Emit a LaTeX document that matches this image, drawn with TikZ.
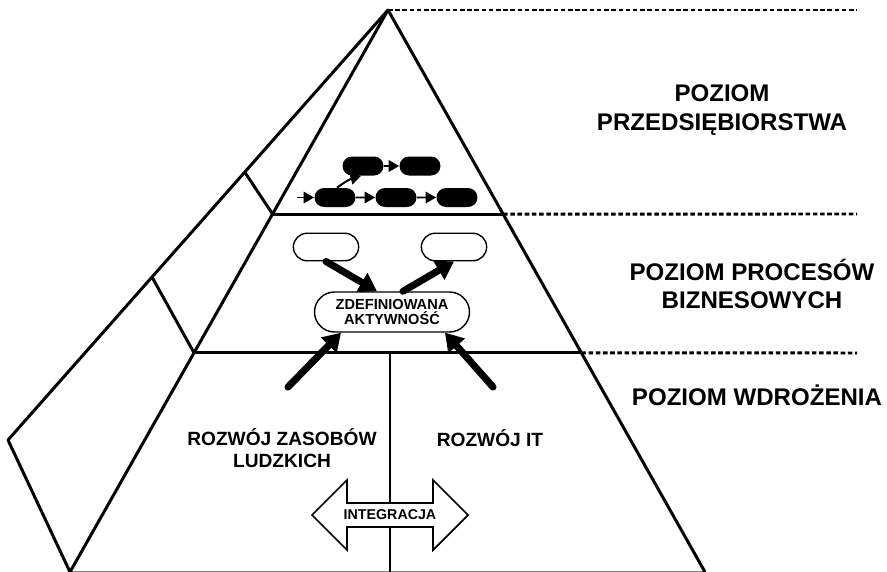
\documentclass[tikz,border=0pt]{standalone}
\usepackage{fontspec}
\setmainfont{Liberation Sans}
\usepackage{tikz}
\usetikzlibrary{arrows.meta, positioning, calc, shapes.misc}

\begin{document}
\begin{tikzpicture}[
  x=0.02cm, y=-0.02cm,
  edge/.style = {draw, line width=1.7pt, line join=round},
  level/.style = {draw, line width=1.7pt, dash pattern=on 2.6pt off 1.5pt},
  biglabel/.style = {font=\fontsize{13.7}{16.1}\selectfont\bfseries, align=center},
  midlabel/.style = {font=\fontsize{10.9}{12.3}\selectfont\bfseries, align=center},
  smalllabel/.style = {font=\fontsize{8.3}{8.6}\selectfont\bfseries, align=center},
  task/.style = {rounded rectangle, fill=black, minimum width=0.82cm, minimum height=0.38cm, inner sep=0pt},
  proc/.style = {rounded rectangle, draw, line width=0.8pt, minimum width=1.54cm, minimum height=0.55cm},
  flow/.style = {draw, line width=1.1pt, -{Triangle[length=6pt,width=6.5pt]}},
  push/.style = {draw, line width=4pt, line cap=round, -{Triangle[length=10pt,width=12pt]}}
  ]
 \useasboundingbox (0,0) rectangle (887,572);
 % Pyramid corners
 \coordinate (apex) at (388,10);
 \coordinate (bl) at (70,572);
 \coordinate (br) at (705,572);
 \coordinate (side) at (8,440);
 \coordinate (l1) at ($(apex)!0.363!(bl)$);
 \coordinate (r1) at ($(apex)!0.363!(br)$);
 \coordinate (l2) at ($(apex)!0.610!(bl)$);
 \coordinate (r2) at ($(apex)!0.610!(br)$);
 \coordinate (s1) at ($(apex)!0.377!(side)$);
 \coordinate (s2) at ($(apex)!0.621!(side)$);
 \coordinate (split) at (390,353);
 % Pyramid faces
 \draw[gray, line width=0.8pt] (bl) -- (br);
 \draw[edge] (bl) -- (apex) -- (br);
 \draw[edge] (apex) -- (side) -- (bl);
 \draw[edge] (l1) -- (r1);
 \draw[edge] (l2) -- (r2);
 \draw[edge] (l1) -- (s1);
 \draw[edge] (l2) -- (s2);
 \draw[line width=1.4pt] (split) -- (split |- bl);
 % Level lines
 \draw[level] (apex) -- (857,10);
 \draw[level] (r1) -- (857,214);
 \draw[level] (r2) -- (857,353);
 % Level labels
 \node[biglabel] (enterprise) at (722,110) {POZIOM\\PRZEDSIĘBIORSTWA};
 \node[biglabel] (processes) at (752,284) {POZIOM PROCESÓW\\BIZNESOWYCH};
 \node[biglabel] (deployment) at (757,395) {POZIOM WDROŻENIA};
 % Enterprise level tasks
 \node[task] (t1) at (363,166) {};
 \node[task] (t2) at (420,166) {};
 \node[task] (t3) at (335,197.5) {};
 \node[task] (t4) at (396,197.5) {};
 \node[task] (t5) at (457,197.5) {};
 \coordinate (tin) at (297,197.5);
 \draw[flow] (tin) -- (t3);
 \draw[flow] (t3) -- (t4);
 \draw[flow] (t4) -- (t5);
 \draw[flow] (t1) -- (t2);
 \draw[flow] ([xshift=0.04cm]t3.north) to[bend left=10] ([xshift=-0.04cm]t1.south);
 % Process level
 \node[proc] (procin) at (326,247) {};
 \node[proc] (procout) at (454,247) {};
 \node[rounded rectangle, draw, line width=0.8pt, minimum width=3.1cm, minimum height=0.8cm, inner sep=0pt, smalllabel] (activity) at (392,312)
  {ZDEFINIOWANA\\AKTYWNOŚĆ};
 \draw[push] (procin.south) -- ([xshift=-0.3cm]activity.north);
 \draw[push] ([xshift=0.22cm]activity.north) -- (procout.south);
 % Deployment level
 \node[midlabel] (hrdev) at (282,448) {ROZWÓJ ZASOBÓW\\LUDZKICH};
 \node[midlabel] (itdev) at (490,438) {ROZWÓJ IT};
 \coordinate (hrtail) at (288,387);
 \coordinate (ittail) at (493,387);
 \draw[push] (hrtail) -- ([xshift=-1.02cm]activity.south);
 \draw[push] (ittail) -- ([xshift=1.06cm]activity.south);
 % Integration arrow
 \draw[line width=1pt, fill=white, line join=miter]
  (312,515) -- (347,480) -- (347,503) -- (433,503) -- (433,480) -- (468,515)
  -- (433,550) -- (433,527) -- (347,527) -- (347,550) -- cycle;
 \node[font=\fontsize{8.1}{9}\selectfont\bfseries, inner sep=0pt] (integration) at (390,515) {INTEGRACJA};
\end{tikzpicture}
\end{document}
